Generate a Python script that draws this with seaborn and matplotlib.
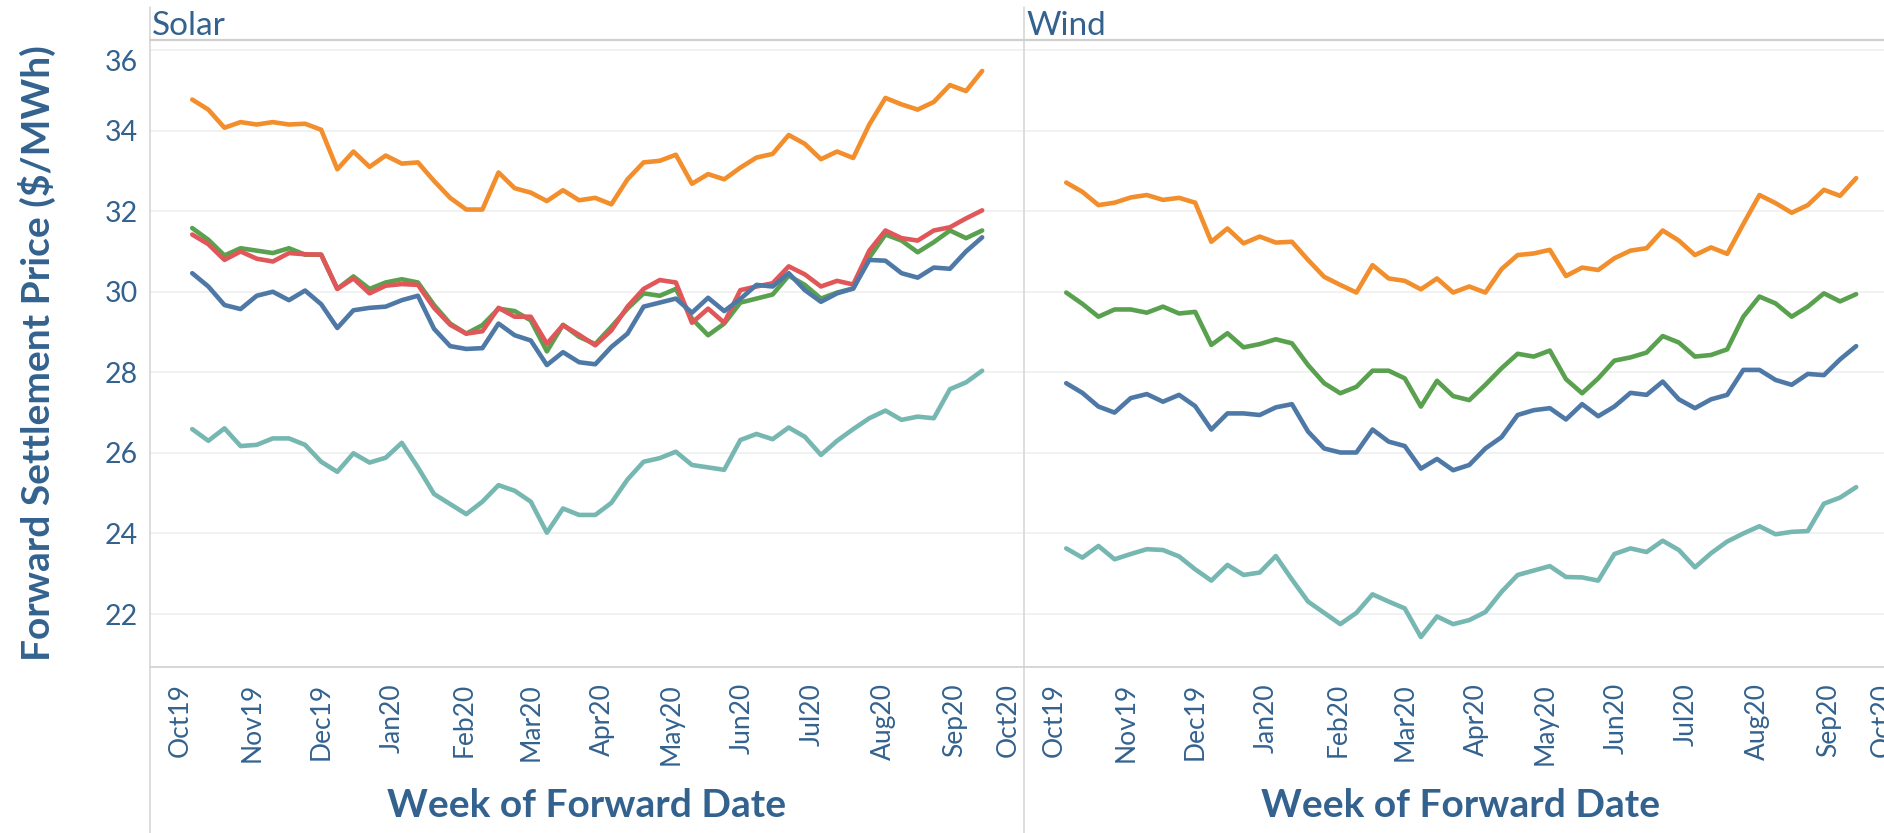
import matplotlib
matplotlib.use("Agg")
import numpy as np
import pandas as pd
import matplotlib.pyplot as plt
import matplotlib.dates as mdates
from matplotlib.lines import Line2D
import seaborn as sns

# ---------------- data ----------------
first_week = "2019-10-06"
n_weeks = 50
weeks = pd.date_range(first_week, periods=n_weeks, freq="7D")

solar_orange = [34.77, 34.52, 34.07, 34.21, 34.15, 34.21, 34.15, 34.17, 34.02, 33.04,
                33.48, 33.10, 33.38, 33.18, 33.21, 32.75, 32.33, 32.04, 32.04, 32.96,
                32.57, 32.46, 32.25, 32.52, 32.27, 32.33, 32.17, 32.79, 33.21, 33.25,
                33.40, 32.68, 32.92, 32.79, 33.08, 33.33, 33.42, 33.89, 33.67, 33.29,
                33.48, 33.32, 34.15, 34.81, 34.65, 34.52, 34.71, 35.13, 34.98, 35.48]
solar_green = [31.58, 31.29, 30.90, 31.08, 31.02, 30.96, 31.08, 30.92, 30.92, 30.07,
               30.38, 30.07, 30.23, 30.31, 30.23, 29.67, 29.21, 28.96, 29.17, 29.58,
               29.52, 29.29, 28.52, 29.18, 28.88, 28.70, 29.13, 29.58, 29.96, 29.90,
               30.07, 29.33, 28.92, 29.21, 29.73, 29.83, 29.93, 30.40, 30.17, 29.83,
               29.98, 30.08, 30.85, 31.42, 31.27, 30.98, 31.23, 31.52, 31.33, 31.52]
solar_red = [31.42, 31.18, 30.79, 31.00, 30.82, 30.75, 30.96, 30.93, 30.92, 30.07,
             30.33, 29.96, 30.15, 30.19, 30.17, 29.60, 29.18, 28.96, 29.02, 29.60,
             29.38, 29.38, 28.71, 29.17, 28.93, 28.67, 29.04, 29.63, 30.07, 30.29,
             30.23, 29.23, 29.58, 29.23, 30.04, 30.13, 30.21, 30.63, 30.43, 30.13,
             30.27, 30.18, 31.02, 31.52, 31.33, 31.27, 31.52, 31.60, 31.82, 32.02]
solar_blue = [30.46, 30.13, 29.67, 29.57, 29.90, 30.00, 29.79, 30.03, 29.69, 29.10,
              29.54, 29.60, 29.63, 29.79, 29.90, 29.08, 28.65, 28.58, 28.60, 29.21,
              28.92, 28.79, 28.18, 28.50, 28.25, 28.20, 28.63, 28.96, 29.63, 29.73,
              29.83, 29.48, 29.85, 29.52, 29.82, 30.17, 30.13, 30.46, 30.04, 29.75,
              29.96, 30.08, 30.79, 30.77, 30.46, 30.35, 30.60, 30.57, 31.00, 31.35]
solar_teal = [26.59, 26.30, 26.61, 26.17, 26.20, 26.36, 26.36, 26.20, 25.78, 25.53,
              25.99, 25.76, 25.88, 26.25, 25.64, 24.98, 24.73, 24.48, 24.79, 25.20,
              25.06, 24.79, 24.02, 24.62, 24.46, 24.46, 24.76, 25.34, 25.78, 25.87,
              26.03, 25.70, 25.64, 25.58, 26.32, 26.47, 26.34, 26.63, 26.40, 25.95,
              26.30, 26.59, 26.86, 27.05, 26.82, 26.90, 26.86, 27.58, 27.75, 28.04]

wind_orange = [32.71, 32.48, 32.15, 32.21, 32.34, 32.40, 32.28, 32.33, 32.21, 31.24,
               31.57, 31.20, 31.37, 31.22, 31.24, 30.79, 30.37, 30.17, 29.98, 30.66,
               30.33, 30.27, 30.06, 30.33, 29.98, 30.13, 29.98, 30.56, 30.91, 30.95,
               31.04, 30.39, 30.60, 30.54, 30.83, 31.02, 31.08, 31.52, 31.27, 30.91,
               31.10, 30.94, 31.68, 32.40, 32.20, 31.96, 32.15, 32.53, 32.38, 32.82]
wind_green = [29.98, 29.70, 29.38, 29.56, 29.56, 29.48, 29.63, 29.46, 29.50, 28.68,
              28.97, 28.62, 28.70, 28.82, 28.72, 28.18, 27.73, 27.48, 27.64, 28.04,
              28.04, 27.85, 27.15, 27.79, 27.41, 27.31, 27.69, 28.10, 28.46, 28.39,
              28.54, 27.83, 27.48, 27.85, 28.29, 28.37, 28.49, 28.90, 28.74, 28.39,
              28.43, 28.57, 29.38, 29.88, 29.71, 29.38, 29.63, 29.96, 29.76, 29.94]
wind_blue = [27.73, 27.49, 27.15, 27.00, 27.36, 27.46, 27.27, 27.44, 27.16, 26.58,
             26.98, 26.98, 26.94, 27.13, 27.21, 26.53, 26.11, 26.01, 26.01, 26.58,
             26.28, 26.17, 25.61, 25.85, 25.57, 25.70, 26.11, 26.39, 26.94, 27.06,
             27.11, 26.83, 27.21, 26.91, 27.15, 27.49, 27.44, 27.77, 27.33, 27.11,
             27.33, 27.44, 28.06, 28.06, 27.81, 27.69, 27.96, 27.93, 28.32, 28.65]
wind_teal = [23.63, 23.40, 23.69, 23.36, 23.49, 23.61, 23.59, 23.43, 23.11, 22.83,
             23.22, 22.97, 23.03, 23.44, 22.86, 22.31, 22.03, 21.75, 22.03, 22.49,
             22.31, 22.14, 21.43, 21.94, 21.75, 21.85, 22.05, 22.55, 22.97, 23.08,
             23.19, 22.92, 22.91, 22.83, 23.49, 23.63, 23.54, 23.82, 23.59, 23.16,
             23.51, 23.80, 24.00, 24.18, 23.98, 24.04, 24.06, 24.74, 24.89, 25.15]

panels = ["Solar", "Wind"]
month_ticks = pd.date_range("2019-10-01", "2020-10-01", freq="MS")
month_labels = ["Oct19", "Nov19", "Dec19", "Jan20", "Feb20", "Mar20", "Apr20",
                "May20", "Jun20", "Jul20", "Aug20", "Sep20", "Oct20"]
y_ticks = [22, 24, 26, 28, 30, 32, 34, 36]
y_title = "Forward Settlement Price ($/MWh)"
x_title = "Week of Forward Date"

series_colors = {"Series 1": "#f28e2b", "Series 2": "#59a14f", "Series 3": "#e15759",
                 "Series 4": "#4e79a7", "Series 5": "#76b7b2"}
draw_order = ["Series 1", "Series 5", "Series 2", "Series 3", "Series 4"]

panel_series = {
    "Solar": {"Series 1": solar_orange, "Series 2": solar_green, "Series 3": solar_red,
              "Series 4": solar_blue, "Series 5": solar_teal},
    "Wind": {"Series 1": wind_orange, "Series 2": wind_green,
             "Series 4": wind_blue, "Series 5": wind_teal},
}

rows = []
for p, sdict in panel_series.items():
    for s, vals in sdict.items():
        for d, v in zip(weeks, vals):
            rows.append({"panel": p, "series": s, "week": d, "price": v})
df = pd.DataFrame(rows)

# ---------------- figure ----------------
W, H, DPI = 1884, 833, 100
sns.set_theme(style="white")
plt.rcParams["font.family"] = ["Lato", "DejaVu Sans"]
TEXT = "#33628f"
GRID = "#ededed"
FRAME = "#d3d3d3"

fig = plt.figure(figsize=(W / DPI, H / DPI), dpi=DPI)
fig.patch.set_facecolor("white")


def px_rect(x0, y0, w, h):
    return [x0 / W, 1 - (y0 + h) / H, w / W, h / H]


PANE_TOP, PANE_BOT = 40, 667
PANE_W = 874
lefts = {"Solar": 150, "Wind": 1024}
xlim = (pd.Timestamp("2019-09-17 16:00"), pd.Timestamp("2020-10-01 04:00"))

for p in panels:
    ax = fig.add_axes(px_rect(lefts[p], PANE_TOP, PANE_W, PANE_BOT - PANE_TOP))
    sub = df[df["panel"] == p]
    order = [s for s in draw_order if s in sub["series"].unique()]
    sns.lineplot(data=sub, x="week", y="price", hue="series", hue_order=order,
                 palette=series_colors, linewidth=3.3, estimator=None, sort=False,
                 legend=False, ax=ax)
    ax.set_xlim(mdates.date2num(xlim[0]), mdates.date2num(xlim[1]))
    ax.set_ylim(20.686, 36.248)
    ax.set_facecolor("white")
    for side in ["left", "right", "top"]:
        ax.spines[side].set_visible(False)
    ax.spines["bottom"].set_color("#cccccc")
    ax.spines["bottom"].set_linewidth(1.1)

    ax.set_yticks(y_ticks)
    ax.grid(axis="y", color=GRID, linewidth=1.1)
    ax.grid(axis="x", visible=False)
    ax.set_axisbelow(True)
    if p == "Solar":
        ax.set_yticklabels([str(t) for t in y_ticks])
        ax.tick_params(axis="y", length=0, pad=8.5, labelsize=20.5, labelcolor=TEXT)
    else:
        ax.tick_params(axis="y", length=0, labelleft=False)

    ax.set_xticks(mdates.date2num(month_ticks))
    ax.set_xticklabels(month_labels[:-1] + [""])
    ax.xaxis.set_minor_locator(mdates.WeekdayLocator(byweekday=mdates.SU))
    ax.tick_params(axis="x", which="major", direction="out", length=5, width=1.0,
                   color="#c8c8c8", pad=6.5, labelsize=19, labelcolor=TEXT,
                   labelrotation=90)
    ax.tick_params(axis="x", which="minor", direction="in", length=3, width=0.8,
                   color="#dddddd")
    ax.set_xlabel("")
    ax.set_ylabel("")

    # Tableau keeps the edge label inside the pane
    ax.annotate(month_labels[-1], xy=(mdates.date2num(month_ticks[-1]), 0),
                xycoords=("data", "axes fraction"), xytext=(-15, -16),
                textcoords="offset pixels", rotation=90, ha="center", va="top",
                fontsize=19, color=TEXT, annotation_clip=False)

    if p == "Solar":
        labs = ax.get_yticklabels()
        labs[-1].set_va("top")

    fig.text((lefts[p] + 2) / W, 1 - 35 / H, p, fontsize=24, color=TEXT,
             ha="left", va="baseline")
    fig.text((lefts[p] + PANE_W / 2) / W, 1 - 817 / H, x_title, fontsize=28,
             fontweight="bold", color=TEXT, ha="center", va="baseline")

fig.text(37 / W, 1 - 353 / H, y_title, rotation=90, fontsize=28, fontweight="bold",
         color=TEXT, ha="center", va="center")

# frame lines of the Tableau layout
for x in (150, 1024):
    fig.add_artist(Line2D([x / W, x / W], [1 - 7 / H, 0], transform=fig.transFigure,
                          color=FRAME, linewidth=1.1))
fig.add_artist(Line2D([150 / W, 1], [1 - 40 / H, 1 - 40 / H], transform=fig.transFigure,
                      color="#cfcfcf", linewidth=1.6))

fig.savefig("out.png", dpi=DPI, facecolor="white")
